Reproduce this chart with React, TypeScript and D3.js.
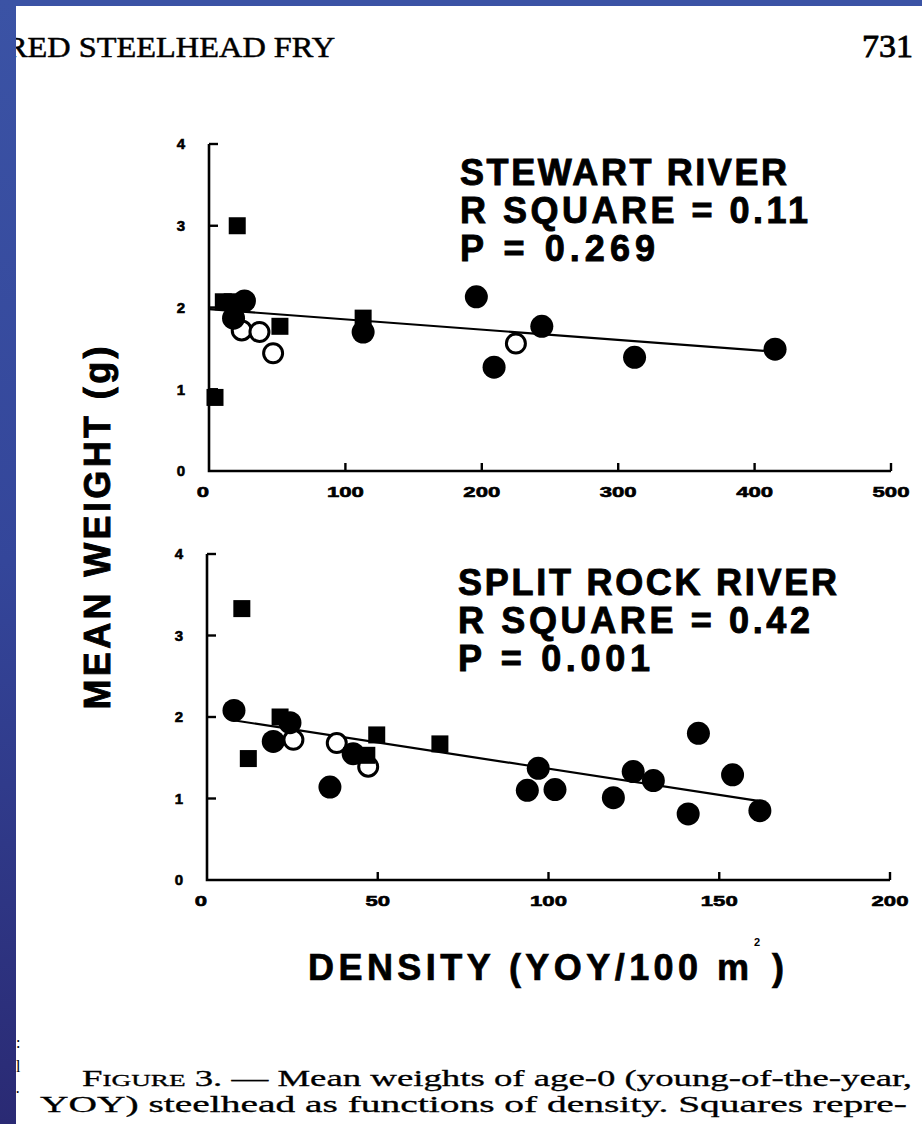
import React from 'react';
import * as d3 from 'd3';

// ---------- data ----------
// Stewart River: density (YOY/100 m^2) vs mean weight (g)
const stewartSquares: [number, number][] = [
  [20.7, 3.0], [4.4, 0.9], [10.5, 2.07], [17, 2.07], [52, 1.77], [113, 1.87],
];
const stewartDots: [number, number][] = [
  [26, 2.08], [18, 1.87], [113, 1.7], [196, 2.13], [209, 1.27], [244, 1.77], [312, 1.39], [415, 1.49],
];
const stewartOpen: [number, number][] = [
  [24, 1.72], [37, 1.7], [47, 1.44], [225, 1.56],
];
const stewartFit: [number, number][] = [[0, 1.98], [415, 1.46]];
const stewartStats = ['STEWART RIVER', 'R SQUARE = 0.11', 'P = 0.269'];
const stewartXTicks = [0, 100, 200, 300, 400, 500];

// Split Rock River
const splitSquares: [number, number][] = [
  [10.2, 3.33], [12.1, 1.49], [21.4, 2.0], [46.8, 1.53], [49.7, 1.78], [68.2, 1.67],
];
const splitDots: [number, number][] = [
  [7.9, 2.08], [24.3, 1.93], [19.4, 1.7], [36, 1.14], [42.8, 1.55], [97, 1.37], [93.8, 1.1],
  [101.9, 1.11], [119, 1.01], [124.8, 1.33], [130.7, 1.22], [143.9, 1.8], [140.9, 0.81],
  [153.9, 1.29], [161.9, 0.85],
];
const splitOpen: [number, number][] = [
  [25.3, 1.72], [38, 1.68], [47.2, 1.39],
];
const splitFit: [number, number][] = [[7.7, 1.96], [161.4, 0.97]];
const splitStats = ['SPLIT ROCK RIVER', 'R SQUARE = 0.42', 'P = 0.001'];
const splitXTicks = [0, 50, 100, 150, 200];

const yTicks = [0, 1, 2, 3, 4];

const headerText = 'RED STEELHEAD FRY';
const pageNumber = '731';
const yLabel = 'MEAN WEIGHT (g)';
const xLabel = 'DENSITY (YOY/100 m';
const captionLine1Rest = '. \u2014 Mean weights of age-0 (young-of-the-year,';
const captionLine2 = 'YOY) steelhead as functions of density. Squares repre-';

const SANS = '"Liberation Sans", Arial, Helvetica, sans-serif';
const SERIF = '"Liberation Serif", "Times New Roman", serif';

interface PanelProps {
  xDomain: [number, number];
  xTicks: number[];
  left: number;
  right: number;
  top: number;
  bottom: number;
  squares: [number, number][];
  dots: [number, number][];
  open: [number, number][];
  fit: [number, number][];
  stats: string[];
  statX: number;
  statWidths: number[];
}

function Panel(p: PanelProps) {
  const x = d3.scaleLinear().domain(p.xDomain).range([p.left, p.right]);
  const y = d3.scaleLinear().domain([0, 4]).range([p.bottom, p.top]);
  const line = d3.line<[number, number]>().x((d) => x(d[0])).y((d) => y(d[1]));
  const sq = 17;
  return (
    <g>
      {/* axes */}
      <path
        d={`M${p.left},${p.top}V${p.bottom}H${p.right}`}
        fill="none"
        stroke="#000"
        strokeWidth={2.6}
      />
      {yTicks.filter((t) => t > 0).map((t) => (
        <line key={'yt' + t} x1={p.left} x2={p.left + 9} y1={y(t)} y2={y(t)} stroke="#000" strokeWidth={2.4} />
      ))}
      {p.xTicks.filter((t) => t > p.xDomain[0]).map((t) => (
        <line key={'xt' + t} x1={x(t)} x2={x(t)} y1={p.bottom} y2={p.bottom - 8} stroke="#000" strokeWidth={2.4} />
      ))}
      {yTicks.map((t) => (
        <text
          key={'yl' + t}
          x={p.left - 28}
          y={y(t)}
          dy="0.36em"
          textAnchor="middle"
          fontFamily={SANS}
          fontWeight="bold"
          fontSize={15}
          stroke="#000"
          strokeWidth={0.6}
        >
          {t}
        </text>
      ))}
      {p.xTicks.map((t) => (
        <text
          key={'xl' + t}
          x={x(t) + (t === 0 ? -6 : 0)}
          y={p.bottom + 21}
          dy="0.36em"
          textAnchor="middle"
          fontFamily={SANS}
          fontWeight="bold"
          fontSize={15}
          stroke="#000"
          strokeWidth={0.6}
          textLength={String(t).length * 12.3}
          lengthAdjust="spacingAndGlyphs"
        >
          {t}
        </text>
      ))}
      {/* regression line */}
      <path d={line(p.fit) || ''} fill="none" stroke="#000" strokeWidth={2.2} />
      {/* markers */}
      {p.open.map((d, i) => (
        <circle key={'o' + i} cx={x(d[0])} cy={y(d[1])} r={9.5} fill="#fff" stroke="#000" strokeWidth={3} />
      ))}
      {p.squares.map((d, i) => (
        <rect key={'s' + i} x={x(d[0]) - sq / 2} y={y(d[1]) - sq / 2} width={sq} height={sq} fill="#000" />
      ))}
      {p.dots.map((d, i) => (
        <circle key={'d' + i} cx={x(d[0])} cy={y(d[1])} r={11.5} fill="#000" />
      ))}
      {/* statistics */}
      {p.stats.map((s, i) => (
        <text
          key={'st' + i}
          x={p.statX}
          y={p.top + 41 + i * 38}
          fontFamily={SANS}
          fontWeight="bold"
          fontSize={36}
          stroke="#000"
          strokeWidth={0.9}
          textLength={p.statWidths[i]}
          lengthAdjust="spacing"
        >
          {s}
        </text>
      ))}
    </g>
  );
}

export default function App() {
  return (
    <svg
      width={922}
      height={1124}
      style={{ position: 'absolute', left: 0, top: 0, background: '#fff' }}
    >
      <defs>
        <linearGradient id="edge" x1="0" y1="0" x2="0" y2="1">
          <stop offset="0" stopColor="#3b53a5" />
          <stop offset="0.5" stopColor="#34469a" />
          <stop offset="1" stopColor="#2a2a74" />
        </linearGradient>
      </defs>
      <rect x={0} y={0} width={922} height={1124} fill="#fff" />

      {/* running header */}
      <text x={6} y={57} fontFamily={SERIF} fontSize={29} stroke="#000" strokeWidth={0.5} textLength={329} lengthAdjust="spacingAndGlyphs">
        {headerText}
      </text>
      <text x={862} y={57} fontFamily={SERIF} fontSize={31} stroke="#000" strokeWidth={0.8} textLength={51} lengthAdjust="spacingAndGlyphs">
        {pageNumber}
      </text>

      <Panel
        xDomain={[0, 500]}
        xTicks={stewartXTicks}
        left={209}
        right={891}
        top={144}
        bottom={471}
        squares={stewartSquares}
        dots={stewartDots}
        open={stewartOpen}
        fit={stewartFit}
        stats={stewartStats}
        statX={460}
        statWidths={[327, 348, 195]}
      />
      <Panel
        xDomain={[0, 200]}
        xTicks={splitXTicks}
        left={207}
        right={890}
        top={554}
        bottom={880}
        squares={splitSquares}
        dots={splitDots}
        open={splitOpen}
        fit={splitFit}
        stats={splitStats}
        statX={458}
        statWidths={[379, 352, 192]}
      />

      {/* axis titles */}
      <text
        transform="translate(110,528) rotate(-90)"
        textAnchor="middle"
        fontFamily={SANS}
        fontWeight="bold"
        fontSize={36}
        stroke="#000"
        strokeWidth={0.9}
        textLength={363}
        lengthAdjust="spacing"
      >
        {yLabel}
      </text>
      <text x={308} y={980} fontFamily={SANS} fontWeight="bold" fontSize={36} stroke="#000" strokeWidth={0.7} textLength={441} lengthAdjust="spacing">
        {xLabel}
      </text>
      <text x={754} y={946} fontFamily={SANS} fontWeight="bold" fontSize={11}>
        2
      </text>
      <text x={772} y={980} fontFamily={SANS} fontWeight="bold" fontSize={36} stroke="#000" strokeWidth={0.7}>
        )
      </text>

      {/* caption */}
      <text x={82} y={1086} fontFamily={SERIF} fontSize={23} stroke="#000" strokeWidth={0.3} textLength={830} lengthAdjust="spacingAndGlyphs">
        <tspan>F</tspan>
        <tspan fontSize={17}>IGURE</tspan>
        <tspan> 3{captionLine1Rest}</tspan>
      </text>
      <text x={40} y={1112} fontFamily={SERIF} fontSize={23} stroke="#000" strokeWidth={0.3} textLength={867} lengthAdjust="spacingAndGlyphs">
        {captionLine2}
      </text>

      {/* scanned page edge */}
      <rect x={0} y={0} width={922} height={6} fill="#3b53a5" />
      <rect x={0} y={0} width={16} height={1124} fill="url(#edge)" />
      <text x={16} y={1048} fontFamily={SERIF} fontSize={16}>:</text>
      <text x={16} y={1072} fontFamily={SERIF} fontSize={16}>l</text>
      <text x={15} y={1098} fontFamily={SERIF} fontSize={16}>·</text>
    </svg>
  );
}
